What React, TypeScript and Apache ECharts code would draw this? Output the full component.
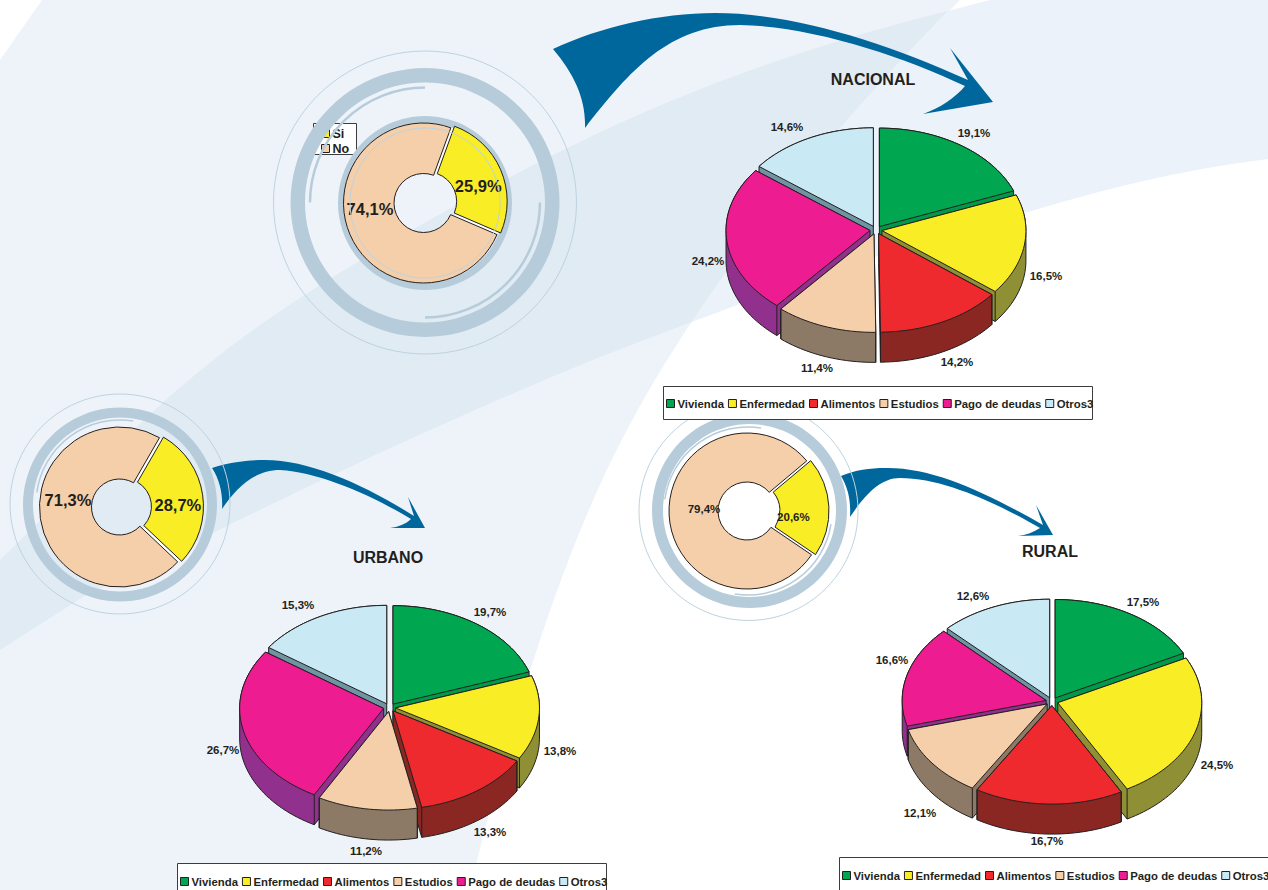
import React, { useEffect, useRef } from "react";
import * as echarts from "echarts";

const categories = ["Vivienda", "Enfermedad", "Alimentos", "Estudios", "Pago de deudas", "Otros3"];
const nacionalValues = [19.1, 16.5, 14.2, 11.4, 24.2, 14.6];
const urbanoValues = [19.7, 13.8, 13.3, 11.2, 26.7, 15.3];
const ruralValues = [17.5, 24.5, 16.7, 12.1, 16.6, 12.6];
const donutNames = ["Si", "No"];
const nacionalDonut = [25.9, 74.1];
const urbanoDonut = [28.7, 71.3];
const ruralDonut = [20.6, 79.4];

const topColors = ["#00a650", "#f9ed25", "#ee2a2e", "#f5cfa9", "#ed1c91", "#c9e9f4"];
const wallColors = ["#00994a", "#8f8f35", "#8a2722", "#8c7a67", "#92308e", "#6f95a3"];
const donutColors = ["#f9ed25", "#f5cfa9"];
const INK = "#231f20";
const FONT = '"Liberation Sans", Arial, sans-serif';
const RING = "#b7ccda";
const THIN = "#bdd3e0";

const BG_LEFT = "M42,0 L960,0 C830,130 700,290 627,430 C565,545 510,720 470,890 L0,890 L0,60 Z";
const BG_RIGHT = "M948,11 L990,0 L1268,0 L1268,159 C1180,170 1100,190 1025,213 C900,245 790,285 691.5,322 C765,212 860,100 948,11 Z";
const BG_BAND = "M0,560 C60,502 120,440 177,390 C208,364 238,340 270,318 C370,250 480,190 590,137 C710,80 830,40 948,11 C860,100 765,212 691.5,322 L600,357 C470,410 340,470 213,533 L83,597 L0,650 Z";
const ARROW_N = "M553,49 C600,27 660,13 715,13 C790,13 880,40 968,80 L950,48 L993,102 L923,114 C940,108 955,98 965,86 C900,55 810,26 740,25 C670,25 630,70 585,128 C586,100 575,75 553,49 Z";
const ARROW_U = "M212,468 C230,462 250,460 265,460 C310,460 365,485 414,516 L408,497 L425,528 L390,528 C398,527 406,524 411,519 C375,497 320,472 280,470 C255,470 237,487 222,509 C223,495 220,480 212,468 Z";
const ARROW_R = "M841,476 C855,470 870,468 885,468 C935,467 990,495 1043,525 L1036,505 L1053,535 L1018,536 C1026,535 1034,532 1040,528 C1000,505 945,478 900,478 C880,478 865,495 850,517 C851,500 848,488 841,476 Z";

const shapes: Record<string, string> = {
  bgLeft: BG_LEFT,
  bgRight: BG_RIGHT,
  bgBand: BG_BAND,
  arrowN: ARROW_N,
  arrowU: ARROW_U,
  arrowR: ARROW_R,
};
Object.keys(shapes).forEach((k) => echarts.graphic.registerShape(k, echarts.graphic.extendPath(shapes[k], {})));

const pct = (v: number) => v.toFixed(1).replace(".", ",") + "%";

type Pie3D = { values: number[]; cx: number; cy: number; rx: number; ry: number; depth: number; explode: number; labels: number[][] };

const pies: Pie3D[] = [
  { values: nacionalValues, cx: 876, cy: 230, rx: 144, ry: 98.5, depth: 30, explode: 6,
    labels: [[974, 133], [1046, 276], [957, 362], [817, 368], [708, 261], [787, 127]] },
  { values: urbanoValues, cx: 389.5, cy: 707.5, rx: 144, ry: 98.5, depth: 30, explode: 6,
    labels: [[490, 612], [560, 751], [490, 832], [366, 851], [223, 750], [298, 605]] },
  { values: ruralValues, cx: 1052, cy: 701.5, rx: 144, ry: 98.5, depth: 30, explode: 6,
    labels: [[1143, 602], [1217, 765], [1047, 841], [920, 813], [892, 660], [973, 596]] },
];

function hull(pts: number[][]) {
  const p = pts.slice().sort((a, b) => a[0] - b[0] || a[1] - b[1]);
  const cross = (o: number[], a: number[], b: number[]) => (a[0] - o[0]) * (b[1] - o[1]) - (a[1] - o[1]) * (b[0] - o[0]);
  const lo: number[][] = [];
  for (const q of p) {
    while (lo.length >= 2 && cross(lo[lo.length - 2], lo[lo.length - 1], q) <= 0) lo.pop();
    lo.push(q);
  }
  const up: number[][] = [];
  for (let i = p.length - 1; i >= 0; i--) {
    const q = p[i];
    while (up.length >= 2 && cross(up[up.length - 2], up[up.length - 1], q) <= 0) up.pop();
    up.push(q);
  }
  lo.pop();
  up.pop();
  return lo.concat(up);
}

function buildPieSeries(pie: Pie3D) {
  const total = pie.values.reduce((a, b) => a + b, 0);
  let cum = 0;
  const slices = pie.values.map((v, i) => {
    const start = cum;
    cum += v;
    return { i, start, mid: ((start + v / 2) / total) * Math.PI * 2 };
  });
  // painted from the back of the pie to its front
  const ordered = slices.slice().sort((a, b) => -Math.cos(a.mid) - -Math.cos(b.mid));
  return ordered.map((s) => ({
    type: "custom",
    name: categories[s.i],
    coordinateSystem: "none",
    z: 7,
    silent: true,
    itemStyle: { color: topColors[s.i] },
    data: [pie.values[s.i]],
    renderItem: (_p: any, api: any) => {
      const v = api.value(0);
      const a0 = (s.start / total) * Math.PI * 2;
      const a1 = ((s.start + v) / total) * Math.PI * 2;
      const ratio = pie.ry / pie.rx;
      const ox = pie.cx + pie.explode * Math.sin(s.mid);
      const oy = pie.cy - pie.explode * ratio * Math.cos(s.mid);
      const n = Math.max(8, Math.ceil(((a1 - a0) * 180) / Math.PI / 2));
      const top: number[][] = [[ox, oy]];
      for (let k = 0; k <= n; k++) {
        const a = a0 + ((a1 - a0) * k) / n;
        top.push([ox + pie.rx * Math.sin(a), oy - pie.ry * Math.cos(a)]);
      }
      const low = top.map((q) => [q[0], q[1] + pie.depth]);
      const edgeStyle = { stroke: INK, lineWidth: 1, fill: "none" };
      const children: any[] = [
        { type: "polygon", shape: { points: hull(top.concat(low)) }, style: { fill: wallColors[s.i], stroke: INK, lineWidth: 1 } },
      ];
      [[a0, 1], [a1, n + 1]].forEach(([a, idx]) => {
        if (Math.cos(a) < 0.2) {
          children.push({ type: "line", shape: { x1: top[idx][0], y1: top[idx][1], x2: low[idx][0], y2: low[idx][1] }, style: edgeStyle });
        }
      });
      children.push({ type: "polygon", shape: { points: top }, style: { fill: topColors[s.i], stroke: INK, lineWidth: 1 } });
      children.push({
        type: "text",
        x: pie.labels[s.i][0],
        y: pie.labels[s.i][1],
        style: { text: pct(v), fill: INK, fontFamily: FONT, fontWeight: "bold", fontSize: 11.5, align: "center", verticalAlign: "middle" },
      });
      return { type: "group", children };
    },
  }));
}

type Donut = { values: number[]; cx: number; cy: number; r: number; r0: number; startAngle: number; fontSize: number; siOffset: number[]; noLabel: number[] };
const donuts: Donut[] = [
  { values: nacionalDonut, cx: 423.5, cy: 203, r: 80, r0: 29.5, startAngle: 70, fontSize: 16.5, siOffset: [-2, 8], noLabel: [370, 209] },
  { values: urbanoDonut, cx: 119.5, cy: 507, r: 80, r0: 28, startAngle: 60, fontSize: 16.5, siOffset: [-2, 7], noLabel: [68, 500] },
  { values: ruralDonut, cx: 747, cy: 511, r: 78, r0: 29, startAngle: 40, fontSize: 11.5, siOffset: [-14, 9], noLabel: [704, 509] },
];

const buildDonutSeries = (d: Donut) => ({
  type: "pie",
  center: [d.cx, d.cy],
  radius: [d.r0, d.r],
  startAngle: d.startAngle,
  clockwise: true,
  z: 7,
  silent: true,
  selectedMode: "multiple",
  selectedOffset: 4,
  emphasis: { disabled: true },
  itemStyle: { borderColor: INK, borderWidth: 1 },
  label: {
    show: true,
    position: "inside",
    color: INK,
    fontFamily: FONT,
    fontWeight: "bold",
    fontSize: d.fontSize,
    formatter: (p: any) => pct(p.value),
  },
  labelLine: { show: false },
  labelLayout: (p: any) => (p.dataIndex === 1 ? { x: d.noLabel[0], y: d.noLabel[1], align: "center", verticalAlign: "middle" } : {}),
  data: d.values.map((v, i) => ({
    name: donutNames[i],
    value: v,
    selected: i === 0,
    itemStyle: { color: donutColors[i] },
    ...(i === 0 ? { label: { offset: d.siOffset }, select: { label: { offset: d.siOffset } } } : {}),
  })),
});

const deg = (a: number) => (a * Math.PI) / 180;
const thinCircle = (cx: number, cy: number, r: number, z = 4) => ({ type: "circle", z, shape: { cx, cy, r }, style: { fill: "none", stroke: THIN, lineWidth: 1 } });
const thickRing = (cx: number, cy: number, r: number, r0: number, z = 4) => ({ type: "ring", z, shape: { cx, cy, r, r0 }, style: { fill: RING } });
const arc = (cx: number, cy: number, r: number, s: number, e: number, w = 2) => ({
  type: "arc",
  z: 4,
  shape: { cx, cy, r, startAngle: deg(s), endAngle: deg(e), clockwise: true },
  style: { fill: "none", stroke: RING, lineWidth: w },
});
const whiteUnder = (d: Donut) => ({ type: "ring", z: 6, shape: { cx: d.cx, cy: d.cy, r: d.r, r0: d.r0 + 4 }, style: { fill: "#ffffff" } });
const box = (x: number, y: number, width: number, height: number, z = 5) => ({
  type: "rect",
  z,
  shape: { x, y, width, height },
  style: { fill: "#ffffff", stroke: "#3c3c3c", lineWidth: 1 },
});
const path = (type: string, fill: string, z: number) => ({ type, z, x: 0, y: 0, style: { fill } });

const legendBase = {
  icon: "rect",
  orient: "horizontal",
  selectedMode: false,
  padding: 0,
  itemWidth: 8,
  itemHeight: 8,
  itemGap: 4,
  z: 6,
  width: 440,
  data: categories,
  itemStyle: { borderColor: INK, borderWidth: 1 },
  textStyle: { color: INK, fontFamily: FONT, fontWeight: "bold", fontSize: 11.35, padding: [0, 0, 0, -2] },
};
const titleStyle = { color: INK, fontFamily: FONT, fontWeight: "bold", fontSize: 16 };

export default function App() {
  const ref = useRef<HTMLDivElement>(null);
  useEffect(() => {
    const chart = echarts.init(ref.current!, null, { renderer: "svg" });
    chart.setOption({
      animation: false,
      backgroundColor: "#ffffff",
      title: [
        { text: "NACIONAL", left: 873, top: 71, padding: 0, textAlign: "center", textStyle: titleStyle, z: 7 },
        { text: "URBANO", left: 388, top: 549, padding: 0, textAlign: "center", textStyle: titleStyle, z: 7 },
        { text: "RURAL", left: 1050, top: 543, padding: 0, textAlign: "center", textStyle: titleStyle, z: 7 },
      ],
      legend: [
        { ...legendBase, left: 666, top: 398 },
        { ...legendBase, left: 180, top: 876 },
        { ...legendBase, left: 842, top: 870 },
        {
          ...legendBase,
          left: 321,
          top: 127,
          width: 40,
          orient: "vertical",
          z: 3,
          itemGap: 2,
          data: donutNames,
          textStyle: { ...legendBase.textStyle, fontSize: 12.5 },
        },
      ],
      graphic: {
        elements: [
          path("bgLeft", "#eef3fa", 0),
          path("bgRight", "#ecf2f9", 0),
          path("bgBand", "#e0ebf4", 0),
          path("arrowN", "#00679d", 1),
          path("arrowU", "#00679d", 1),
          path("arrowR", "#00679d", 1),
          box(313.5, 123.5, 43, 31, 2),
          // Nacional rings
          thinCircle(425, 202.5, 151.5),
          thickRing(425, 202.5, 134.5, 120),
          arc(425, 202.5, 115, 180, 270, 2.5),
          arc(425, 202.5, 115, 0, 90, 2.5),
          thickRing(425, 203, 87, 80),
          { type: "circle", z: 8, silent: true, shape: { cx: 425, cy: 203, r: 75 }, style: { fill: "none", stroke: THIN, lineWidth: 1 } },
          // Urbano rings
          thinCircle(120, 504, 110),
          thickRing(120, 504.5, 97, 87),
          arc(120, 504, 84, 188, 279, 1.5),
          // Rural rings
          thinCircle(748.5, 511, 109.5),
          thickRing(749.5, 510.5, 97.5, 86.5),
          arc(748, 511, 84, 188, 279, 1.5),
          arc(748, 511, 84, 9, 99, 1.5),
          // legend boxes
          box(663.5, 386.5, 429, 33),
          box(177.5, 863.5, 429, 40),
          box(839.5, 857.5, 429, 40),
          whiteUnder(donuts[0]),
          whiteUnder(donuts[1]),
          whiteUnder(donuts[2]),
        ],
      },
      series: [...donuts.map(buildDonutSeries), ...pies.flatMap(buildPieSeries)],
    });
    return () => chart.dispose();
  }, []);
  return <div ref={ref} style={{ position: "fixed", left: 0, top: 0, width: 1268, height: 890 }} />;
}
